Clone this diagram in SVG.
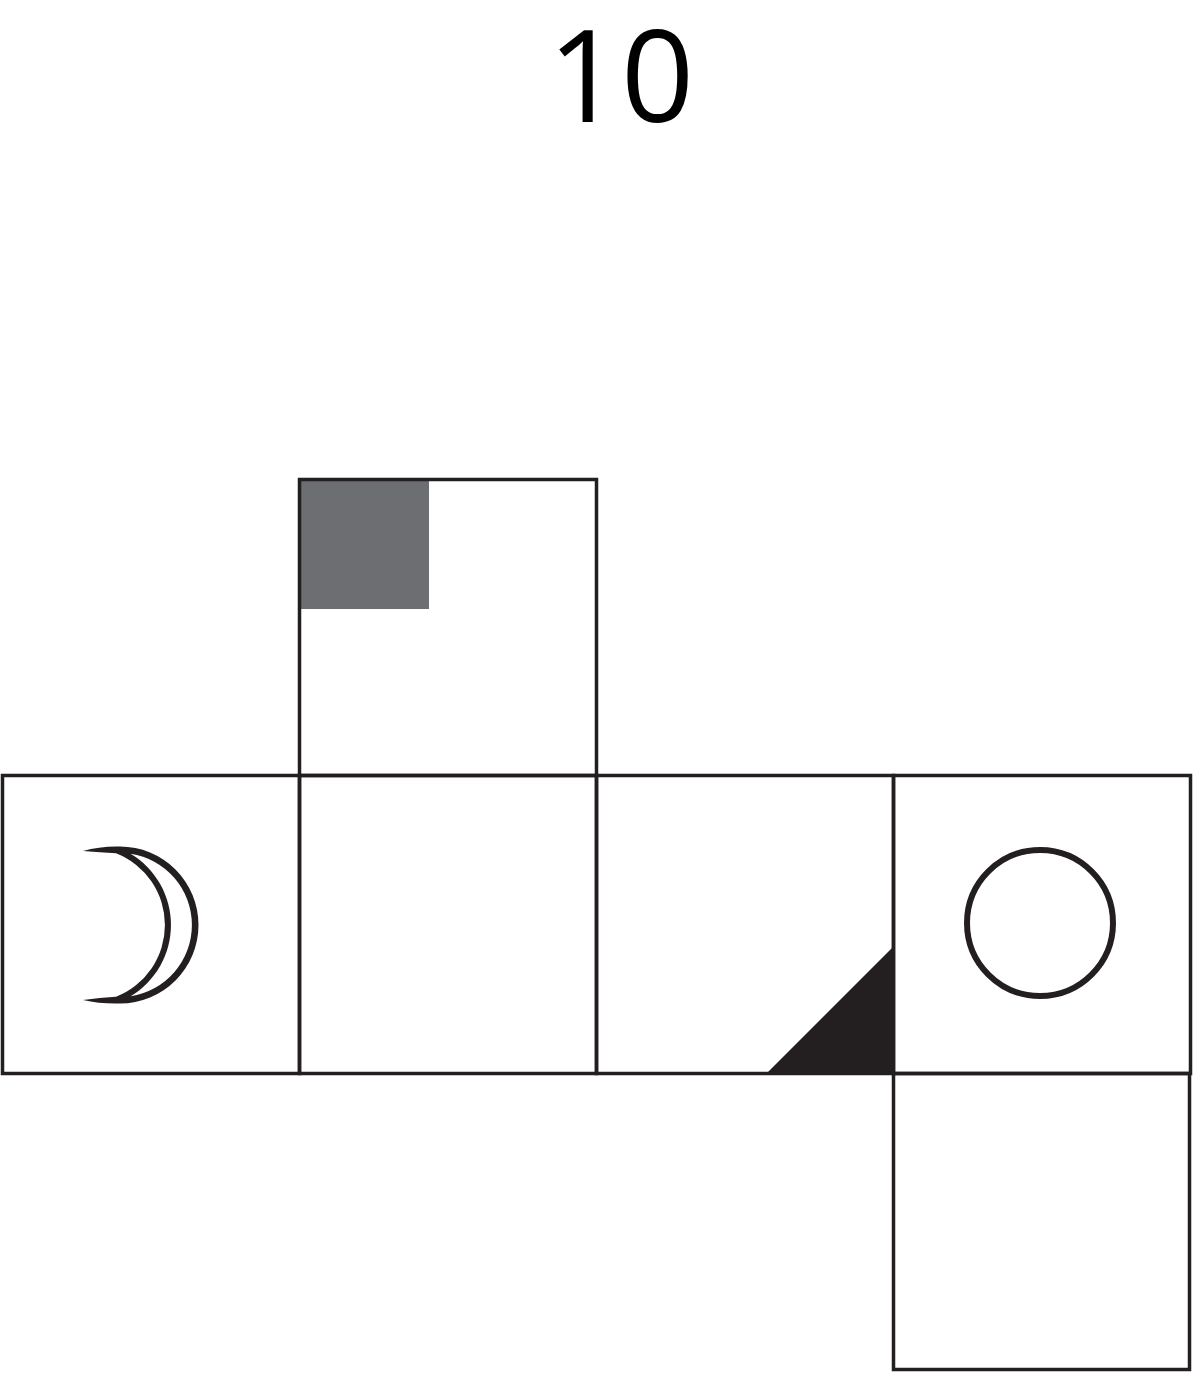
<svg xmlns="http://www.w3.org/2000/svg" width="1193" height="1373" viewBox="0 0 1193 1373">
<style>
.cell{fill:none;stroke:#231f20;stroke-width:3.5}
.sym{fill:none;stroke:#231f20;stroke-width:6}
.ink{fill:#231f20}
.title{font-family:"Open Sans","Noto Sans",sans-serif;font-size:128px;fill:#000}
</style>
<rect width="1193" height="1373" fill="#fff"/>
<text class="title" x="621" y="122" text-anchor="middle">10</text>
<g id="face-top">
<rect x="301" y="481" width="128" height="128" fill="#6d6e71"/>
<rect class="cell" x="299.5" y="479.5" width="297" height="296"/>
</g>
<g id="face-moon">
<rect class="cell" x="2.5" y="775.5" width="297" height="298"/>
<path class="ink" fill-rule="evenodd" d="M83,851 Q100,846 120,846.5 A78.5,78.5 0 0 1 120,1003.5 Q100,1004 83,1000 Q100,997.5 116,996.7 A77,77 0 0 0 116,853.3 Q100,852.5 83,851 Z M130.6,853.8 A72,72 0 0 1 130.6,996.2 A83,83 0 0 0 130.6,853.8 Z"/>
</g>
<g id="face-blank">
<rect class="cell" x="299.5" y="775.5" width="297" height="298"/>
</g>
<g id="face-triangle">
<polygon class="ink" points="767,1073 893,947 893,1073"/>
<rect class="cell" x="596.5" y="775.5" width="297" height="298"/>
</g>
<g id="face-circle">
<rect class="cell" x="893.5" y="775.5" width="297" height="298"/>
<circle class="sym" cx="1040" cy="923" r="73"/>
</g>
<g id="face-bottom">
<rect class="cell" x="893.5" y="1073.5" width="296" height="296"/>
</g>
<g id="connectors"></g>
</svg>
